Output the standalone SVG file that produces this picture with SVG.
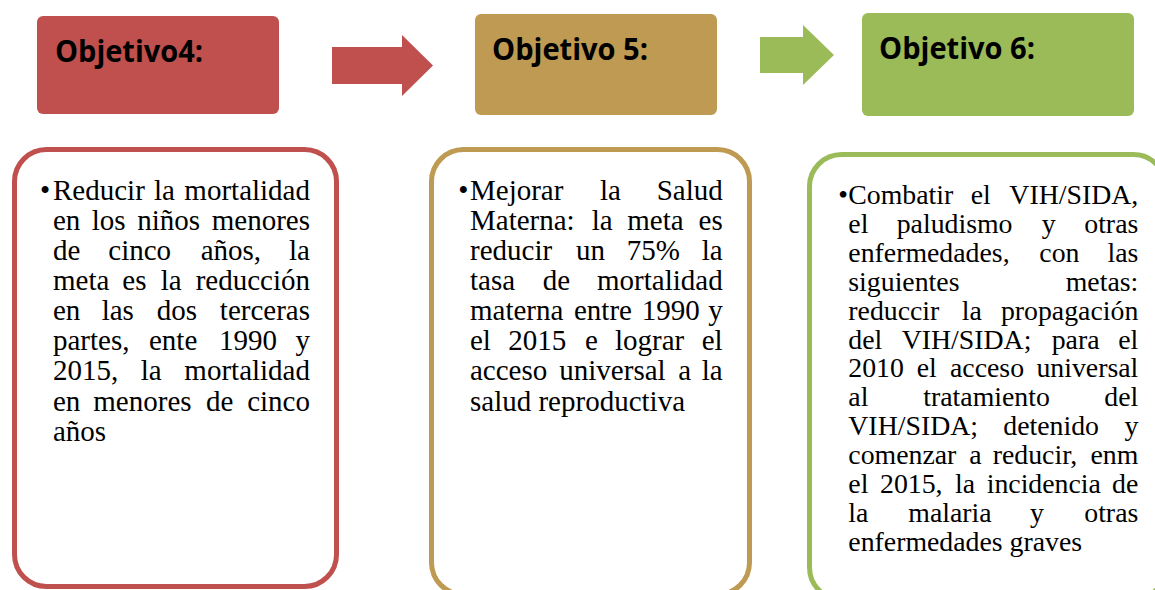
<svg xmlns="http://www.w3.org/2000/svg" width="1155" height="590" viewBox="0 0 1155 590">
<style>
.hdr{font-family:"Open Sans","Liberation Sans",sans-serif;font-weight:700;font-size:30px;fill:#000}
.tx{font-family:"Liberation Serif","Times New Roman",serif;font-size:29px;fill:#000}
.tx3{font-size:27.8px}
.e{text-anchor:end}
.box{fill:#fff;stroke-width:5}
</style>
<rect width="1155" height="590" fill="#fff"/>
<g id="connectors">
<polygon points="332,47 402,47 402,35 433,65.5 402,96 402,84 332,84" fill="#C0504D"/>
<polygon points="760,37 803,37 803,25 834,55 803,85 803,73 760,73" fill="#9BBB59"/>
</g>
<g id="obj4-header">
<rect x="37" y="16" width="242" height="98" rx="6" fill="#C0504D"/>
<text class="hdr" x="55" y="61.7" textLength="148" lengthAdjust="spacingAndGlyphs">Objetivo4:</text>
</g>
<g id="obj5-header">
<rect x="475" y="14" width="242" height="101" rx="6" fill="#BE9A52"/>
<text class="hdr" x="492" y="60" textLength="156" lengthAdjust="spacingAndGlyphs">Objetivo 5:</text>
</g>
<g id="obj6-header">
<rect x="862" y="13" width="272" height="103" rx="6" fill="#9BBB59"/>
<text class="hdr" x="879" y="59.3" textLength="156" lengthAdjust="spacingAndGlyphs">Objetivo 6:</text>
</g>
<g id="obj4-body">
<rect class="box" x="14.5" y="149.5" width="322" height="437" rx="32" stroke="#C0504D"/>
<text class="tx" x="40" y="199.5">•</text>
<text class="tx" y="199.5"><tspan x="53">Reducir</tspan><tspan x="154">la</tspan><tspan x="310" class="e">mortalidad</tspan></text>
<text class="tx" y="229.7"><tspan x="53">en</tspan><tspan x="91.7">los</tspan><tspan x="137.3">niños</tspan><tspan x="310" class="e">menores</tspan></text>
<text class="tx" y="259.8"><tspan x="53">de</tspan><tspan x="108.3">cinco</tspan><tspan x="200.7">años,</tspan><tspan x="310" class="e">la</tspan></text>
<text class="tx" y="290"><tspan x="53">meta</tspan><tspan x="122.3">es</tspan><tspan x="160.7">la</tspan><tspan x="310" class="e">reducción</tspan></text>
<text class="tx" y="320.1"><tspan x="53">en</tspan><tspan x="101.7">las</tspan><tspan x="156.7">dos</tspan><tspan x="310" class="e">terceras</tspan></text>
<text class="tx" y="350.3"><tspan x="53">partes,</tspan><tspan x="149">ente</tspan><tspan x="219">1990</tspan><tspan x="310" class="e">y</tspan></text>
<text class="tx" y="380.4"><tspan x="53">2015,</tspan><tspan x="140.7">la</tspan><tspan x="310" class="e">mortalidad</tspan></text>
<text class="tx" y="410.6"><tspan x="53">en</tspan><tspan x="93.3">menores</tspan><tspan x="206">de</tspan><tspan x="310" class="e">cinco</tspan></text>
<text class="tx" x="53" y="440.7">años</text>
</g>
<g id="obj5-body">
<rect class="box" x="431.5" y="149.5" width="318" height="445" rx="32" stroke="#BE9A52"/>
<text class="tx" x="458.3" y="199.5">•</text>
<text class="tx" y="199.5"><tspan x="470">Mejorar</tspan><tspan x="600">la</tspan><tspan x="722.7" class="e">Salud</tspan></text>
<text class="tx" y="229.7"><tspan x="470">Materna:</tspan><tspan x="591.7">la</tspan><tspan x="627.3">meta</tspan><tspan x="722.7" class="e">es</tspan></text>
<text class="tx" y="259.8"><tspan x="470">reducir</tspan><tspan x="576">un</tspan><tspan x="626.7">75%</tspan><tspan x="722.7" class="e">la</tspan></text>
<text class="tx" y="290"><tspan x="470">tasa</tspan><tspan x="542.7">de</tspan><tspan x="722.7" class="e">mortalidad</tspan></text>
<text class="tx" y="320.1"><tspan x="470">materna</tspan><tspan x="574">entre</tspan><tspan x="641.7">1990</tspan><tspan x="722.7" class="e">y</tspan></text>
<text class="tx" y="350.3"><tspan x="470">el</tspan><tspan x="508.3">2015</tspan><tspan x="585">e</tspan><tspan x="615">lograr</tspan><tspan x="722.7" class="e">el</tspan></text>
<text class="tx" y="380.4"><tspan x="470">acceso</tspan><tspan x="559.3">universal</tspan><tspan x="678.3">a</tspan><tspan x="722.7" class="e">la</tspan></text>
<text class="tx" x="470" y="410.6">salud reproductiva</text>
</g>
<g id="obj6-body">
<rect class="box" x="809.5" y="154.5" width="356" height="445" rx="32" stroke="#9BBB59"/>
<text class="tx tx3" x="838.3" y="204">•</text>
<text class="tx tx3" y="204"><tspan x="848.3">Combatir</tspan><tspan x="970.7">el</tspan><tspan x="1138.3" class="e">VIH/SIDA,</tspan></text>
<text class="tx tx3" y="232.9"><tspan x="848.3">el</tspan><tspan x="896.7">paludismo</tspan><tspan x="1041.7">y</tspan><tspan x="1138.3" class="e">otras</tspan></text>
<text class="tx tx3" y="261.8"><tspan x="848.3">enfermedades,</tspan><tspan x="1039.3">con</tspan><tspan x="1138.3" class="e">las</tspan></text>
<text class="tx tx3" y="290.7"><tspan x="848.3">siguientes</tspan><tspan x="1138.3" class="e">metas:</tspan></text>
<text class="tx tx3" y="319.6"><tspan x="848.3">reduccir</tspan><tspan x="961.7">la</tspan><tspan x="1138.3" class="e">propagación</tspan></text>
<text class="tx tx3" y="348.5"><tspan x="848.3">del</tspan><tspan x="901.7">VIH/SIDA;</tspan><tspan x="1051.7">para</tspan><tspan x="1138.3" class="e">el</tspan></text>
<text class="tx tx3" y="377.4"><tspan x="848.3">2010</tspan><tspan x="916.7">el</tspan><tspan x="950">acceso</tspan><tspan x="1138.3" class="e">universal</tspan></text>
<text class="tx tx3" y="406.3"><tspan x="848.3">al</tspan><tspan x="923.3">tratamiento</tspan><tspan x="1138.3" class="e">del</tspan></text>
<text class="tx tx3" y="435.2"><tspan x="848.3">VIH/SIDA;</tspan><tspan x="1003.3">detenido</tspan><tspan x="1138.3" class="e">y</tspan></text>
<text class="tx tx3" y="464.1"><tspan x="848.3">comenzar</tspan><tspan x="969.3">a</tspan><tspan x="992.7">reducir,</tspan><tspan x="1138.3" class="e">enm</tspan></text>
<text class="tx tx3" y="493"><tspan x="848.3">el</tspan><tspan x="880">2015,</tspan><tspan x="955">la</tspan><tspan x="986.7">incidencia</tspan><tspan x="1138.3" class="e">de</tspan></text>
<text class="tx tx3" y="521.9"><tspan x="848.3">la</tspan><tspan x="908.3">malaria</tspan><tspan x="1030">y</tspan><tspan x="1138.3" class="e">otras</tspan></text>
<text class="tx tx3" x="848.3" y="550.8">enfermedades graves</text>
</g>
</svg>
